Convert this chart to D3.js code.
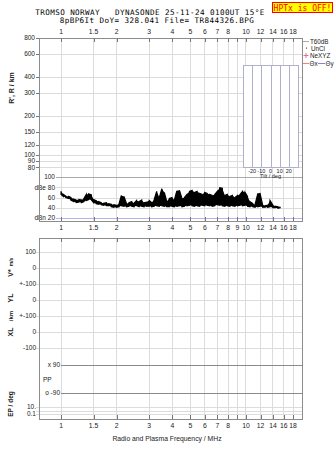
<!DOCTYPE html>
<html>
<head>
<meta charset="utf-8">
<script src="https://cdn.jsdelivr.net/npm/d3@7"></script>
<style>
  body { margin: 0; background: #fff; }
  svg { display: block; font-family: "Liberation Sans", Arial, sans-serif; }
</style>
</head>
<body>
<div id="chart"></div>
<script>
// frequency axis ticks (MHz)
const freqTicks = [1, 1.5, 2, 3, 4, 5, 6, 7, 8, 9, 10, 12, 14, 16, 18];
const freqLabelsTop = ["1", "1.5", "2", "3", "4", "5", "6", "7", "8", "", "10", "12", "14", "16", "18"];
const freqLabelsMid = ["1", "1.5", "2", "3", "4", "5", "6", "7", "8", "9", "10", "12", "14", "16", "18"];

// virtual / real height ticks (km)
const heightTicks = [80, 90, 100, 120, 150, 200, 300, 400, 600, 800];

// amplitude panel ticks
const dbTicks = [100, 80, 60, 40, 20];
const dbLabels = ["100", "dBe 80", "60", "40", "dBn 20"];

// tilt inset ticks (deg)
const tiltTicks = [-20, -10, 0, 10, 20];

// lower panel rows
const rowLabels = ["100", "0", "+-100", "0", "+-100", "0", "-100"];
const ppTicks = [90, -90];
const ppLabels = ["x 90", "o -90"];
const epTicks = [10, 1, 0.1];
const epLabels = ["10.", "", "0.1"];

// received amplitude trace: frequency, lower and upper envelope (dB)
const ampFreq = [1.00, 1.03, 1.06, 1.10, 1.13, 1.17, 1.21, 1.25, 1.29, 1.33, 1.37, 1.41, 1.46, 1.50, 1.55, 1.60,
  1.65, 1.70, 1.76, 1.81, 1.87, 1.93, 1.99, 2.06, 2.12, 2.19, 2.26, 2.33, 2.41, 2.48, 2.56, 2.64, 2.73, 2.81,
  2.90, 3.00, 3.09, 3.19, 3.29, 3.40, 3.51, 3.62, 3.73, 3.85, 3.98, 4.10, 4.23, 4.37, 4.51, 4.65, 4.80, 4.95,
  5.11, 5.28, 5.44, 5.62, 5.80, 5.98, 6.17, 6.37, 6.57, 6.78, 7.00, 7.22, 7.45, 7.69, 7.93, 8.19, 8.45, 8.72,
  9.00, 9.29, 9.58, 9.89, 10.2, 10.5, 10.9, 11.2, 11.6, 11.9, 12.3, 12.7, 13.1, 13.5, 14.0, 14.4, 14.9, 15.3];
const ampHi = [72, 66, 63, 62, 60, 57, 55, 56, 55, 58, 66, 67, 65, 56, 54, 52,
  50, 49, 50, 48, 47, 46, 45, 48, 64, 62, 48, 50, 52, 49, 54, 52, 55, 50,
  51, 54, 50, 56, 72, 60, 77, 70, 52, 58, 60, 55, 73, 74, 58, 60, 66, 72,
  74, 70, 72, 68, 66, 70, 68, 66, 64, 66, 72, 79, 78, 64, 66, 62, 64, 60,
  64, 66, 72, 70, 62, 52, 48, 46, 68, 69, 46, 44, 45, 54, 45, 43, 42, 42];
const ampLo = [66, 62, 60, 58, 55, 52, 50, 51, 50, 52, 54, 56, 55, 50, 48, 47,
  46, 45, 44, 44, 42, 41, 41, 42, 44, 43, 42, 43, 43, 42, 44, 42, 43, 42,
  43, 43, 42, 43, 44, 43, 44, 43, 42, 42, 43, 42, 43, 44, 42, 43, 44, 45,
  44, 43, 44, 43, 45, 44, 45, 44, 43, 44, 46, 45, 44, 43, 44, 43, 44, 43,
  44, 45, 44, 45, 43, 42, 42, 41, 42, 43, 41, 41, 41, 42, 40, 40, 39, 40];

const width = 335, height = 451;
const left = 39, right = 302;

const svg = d3.select("#chart").append("svg")
  .attr("width", width)
  .attr("height", height);

const x = d3.scaleLog().domain([0.76, 20.1]).range([left, right]);
const yH = d3.scaleLog().domain([70, 800]).range([175, 38]);
const yDb = d3.scaleLinear().domain([20, 100]).range([218, 177]);
const yRow = d3.scalePoint().domain(d3.range(rowLabels.length)).range([252, 348]);
const yPP = d3.scaleLinear().domain([90, -90]).range([365, 393]);
const yEP = d3.scaleLog().domain([0.1, 10]).range([414, 407]);
const xTilt = d3.scaleLinear().domain([-30, 30]).range([243, 298]);

const gridCol = "#dcdcdc", frameCol = "#8c8c8c", tickCol = "#777";

// panels: [top, bottom]
const panels = [[38, 221], [238, 419]];

// vertical grid lines
panels.forEach(([t, b]) => {
  svg.append("g").selectAll("line").data(freqTicks).join("line")
    .attr("x1", d => x(d)).attr("x2", d => x(d))
    .attr("y1", t).attr("y2", b)
    .attr("stroke", gridCol).attr("stroke-width", 1).attr("shape-rendering", "crispEdges");
});

// height grid
const gH = svg.append("g");
gH.selectAll("line").data(heightTicks).join("line")
  .attr("x1", left - 3).attr("x2", right)
  .attr("y1", d => Math.round(yH(d)) + 0.5).attr("y2", d => Math.round(yH(d)) + 0.5)
  .attr("stroke", gridCol);
gH.selectAll("line.tk").data(heightTicks).join("line").attr("class", "tk")
  .attr("x1", left - 3).attr("x2", left)
  .attr("y1", d => Math.round(yH(d)) + 0.5).attr("y2", d => Math.round(yH(d)) + 0.5)
  .attr("stroke", tickCol);
gH.selectAll("text").data(heightTicks).join("text")
  .attr("x", left - 4).attr("y", d => yH(d) + 2.3)
  .attr("text-anchor", "end").attr("font-size", 6.5).attr("fill", "#222")
  .text(d => d);

// amplitude grid
const gDb = svg.append("g");
gDb.selectAll("line").data(dbTicks).join("line")
  .attr("x1", 56).attr("x2", right)
  .attr("y1", d => Math.round(yDb(d)) + 0.5).attr("y2", d => Math.round(yDb(d)) + 0.5)
  .attr("stroke", d => d === 20 ? "#b4b4ee" : d === 100 ? "#aaa" : gridCol);
gDb.selectAll("text").data(dbTicks).join("text")
  .attr("x", 55).attr("y", d => yDb(d) + 2.3)
  .attr("text-anchor", "end").attr("font-size", 6.5).attr("fill", "#222")
  .attr("stroke", "#fff").attr("stroke-width", 2).attr("paint-order", "stroke")
  .text((d, i) => dbLabels[i]);

// amplitude trace
const amp = ampFreq.map((f, i) => ({ f, lo: ampLo[i], hi: ampHi[i] }));
svg.append("path")
  .datum(amp)
  .attr("d", d3.area().x(d => x(d.f)).y0(d => yDb(d.lo)).y1(d => yDb(d.hi)))
  .attr("fill", "#000");
svg.append("path")
  .datum(amp.flatMap((d, i) => i % 2 ? [[d.f, d.lo], [d.f, d.hi]] : [[d.f, d.hi], [d.f, d.lo]]))
  .attr("d", d3.line().x(d => x(d[0])).y(d => yDb(d[1])))
  .attr("fill", "none").attr("stroke", "#000").attr("stroke-width", 1.2);

// tilt inset
const tiltCol = "#b0b0cc";
const gT = svg.append("g");
gT.append("rect")
  .attr("x", xTilt(-30) + 0.5).attr("y", 65.5)
  .attr("width", xTilt(30) - xTilt(-30)).attr("height", 102)
  .attr("fill", "#fff").attr("stroke", tiltCol);
gT.selectAll("line").data(tiltTicks).join("line")
  .attr("x1", d => Math.round(xTilt(d)) + 0.5).attr("x2", d => Math.round(xTilt(d)) + 0.5)
  .attr("y1", 66).attr("y2", 168)
  .attr("stroke", tiltCol);
gT.selectAll("text").data(tiltTicks).join("text")
  .attr("x", d => xTilt(d)).attr("y", 172.5)
  .attr("text-anchor", "middle").attr("font-size", 5.5).attr("fill", "#222")
  .text(d => d);
gT.append("text")
  .attr("x", xTilt(0)).attr("y", 178)
  .attr("text-anchor", "middle").attr("font-size", 5.5).attr("fill", "#222")
  .text("Tilt / deg");

// lower panel rows
const gR = svg.append("g");
gR.selectAll("line").data(rowLabels).join("line")
  .attr("x1", left - 3).attr("x2", right)
  .attr("y1", (d, i) => yRow(i) + 0.5).attr("y2", (d, i) => yRow(i) + 0.5)
  .attr("stroke", gridCol);
gR.selectAll("text").data(rowLabels).join("text")
  .attr("x", left - 3).attr("y", (d, i) => yRow(i) + 2.3)
  .attr("text-anchor", "end").attr("font-size", 6.5).attr("fill", "#222")
  .text(d => d);

const gP = svg.append("g");
gP.selectAll("line").data(ppTicks).join("line")
  .attr("x1", x(1)).attr("x2", right)
  .attr("y1", d => yPP(d) + 0.5).attr("y2", d => yPP(d) + 0.5)
  .attr("stroke", "#8a8a8a");
gP.selectAll("text").data(ppTicks).join("text")
  .attr("x", x(1) - 1).attr("y", d => yPP(d) + 2.3)
  .attr("text-anchor", "end").attr("font-size", 6.5).attr("fill", "#222")
  .text((d, i) => ppLabels[i]);
gP.append("text").attr("x", 43).attr("y", 381.5)
  .attr("font-size", 6.5).attr("fill", "#222").text("PP");

const gE = svg.append("g");
gE.selectAll("line").data(epTicks).join("line")
  .attr("x1", left - 3).attr("x2", right)
  .attr("y1", d => Math.round(yEP(d)) + 0.5).attr("y2", d => Math.round(yEP(d)) + 0.5)
  .attr("stroke", gridCol);
gE.selectAll("text").data(epTicks).join("text")
  .attr("x", left - 3).attr("y", d => yEP(d) + 2.3)
  .attr("text-anchor", "end").attr("font-size", 6.5).attr("fill", "#222")
  .text((d, i) => epLabels[i]);

// frames and inner ticks
panels.forEach(([t, b]) => {
  svg.append("rect")
    .attr("x", left + 0.5).attr("y", t + 0.5)
    .attr("width", right - left).attr("height", b - t)
    .attr("fill", "none").attr("stroke", frameCol);
  svg.append("g").selectAll("path").data(freqTicks).join("path")
    .attr("d", d => `M${Math.round(x(d)) + 0.5},${t}v4M${Math.round(x(d)) + 0.5},${b}v-4`)
    .attr("stroke", tickCol);
});

// frequency labels
[[33.5, freqLabelsTop], [230, freqLabelsMid], [428, freqLabelsTop]].forEach(([yy, labels]) => {
  svg.append("g").selectAll("text").data(freqTicks).join("text")
    .attr("x", d => x(d)).attr("y", yy)
    .attr("text-anchor", "middle").attr("font-size", 6.8).attr("fill", "#222")
    .text((d, i) => labels[i]);
});

svg.append("text").attr("x", 167).attr("y", 441)
  .attr("text-anchor", "middle").attr("font-size", 6.8).attr("fill", "#222")
  .text("Radio and Plasma Frequency / MHz");

// rotated axis titles
const vTitles = [
  { t: "R', R / km", x: 14, y: 88, s: 7 },
  { t: "V*", x: 13, y: 273, s: 7 },
  { t: "m/s", x: 13, y: 262, s: 5 },
  { t: "YL", x: 13, y: 298, s: 7 },
  { t: "/km", x: 13, y: 316, s: 6 },
  { t: "XL", x: 13, y: 332, s: 7 },
  { t: "EP / deg", x: 13, y: 404, s: 6.5 }
];
svg.append("g").selectAll("text").data(vTitles).join("text")
  .attr("transform", d => `translate(${d.x},${d.y}) rotate(-90)`)
  .attr("text-anchor", "middle").attr("font-size", d => d.s)
  .attr("font-weight", "bold").attr("fill", "#222")
  .text(d => d.t);

// legend
const gL = svg.append("g").attr("font-size", 6.3).attr("fill", "#222");
gL.append("line").attr("x1", 303).attr("x2", 309).attr("y1", 41.5).attr("y2", 41.5).attr("stroke", "#aaa");
gL.append("text").attr("x", 310).attr("y", 44).text("T60dB");
gL.append("circle").attr("cx", 306.5).attr("cy", 48).attr("r", 0.6).attr("fill", "#000");
gL.append("text").attr("x", 311).attr("y", 50.5).text("UnCl");
gL.append("path").attr("d", "M303.5,55.5h5M306,53v5").attr("stroke", "#e07090");
gL.append("text").attr("x", 310).attr("y", 57.5).text("NeXYZ");
gL.append("line").attr("x1", 303).attr("x2", 309).attr("y1", 63.5).attr("y2", 63.5).attr("stroke", "#f08080");
gL.append("text").attr("x", 309.5).attr("y", 66).text("Θx");
gL.append("line").attr("x1", 318).attr("x2", 325).attr("y1", 63.5).attr("y2", 63.5).attr("stroke", "#8080f0");
gL.append("text").attr("x", 325.5).attr("y", 66).text("Θy");

// header
const gHd = svg.append("g")
  .attr("font-family", "'DejaVu Sans Mono', monospace").attr("font-size", 7.6).attr("fill", "#000")
  .attr("letter-spacing", 0.42).attr("text-anchor", "middle");
gHd.append("text").attr("x", 150).attr("y", 14.8).attr("xml:space", "preserve")
  .text("TROMSO NORWAY   DYNASONDE 25-11-24 0100UT 15°E");
gHd.append("text").attr("x", 157).attr("y", 22.8).attr("xml:space", "preserve")
  .text("8pBP6It DoY= 328.041 File= TR844326.BPG");

svg.append("rect").attr("x", 272.5).attr("y", 2.5).attr("width", 60).attr("height", 10)
  .attr("fill", "#ffff00").attr("stroke", "#ff0000");
svg.append("text").attr("x", 302.5).attr("y", 10.5)
  .attr("text-anchor", "middle").attr("font-family", "'DejaVu Sans Mono', monospace")
  .attr("font-size", 8).attr("fill", "#ff0000")
  .text("HPTx is OFF!");
</script>
</body>
</html>
